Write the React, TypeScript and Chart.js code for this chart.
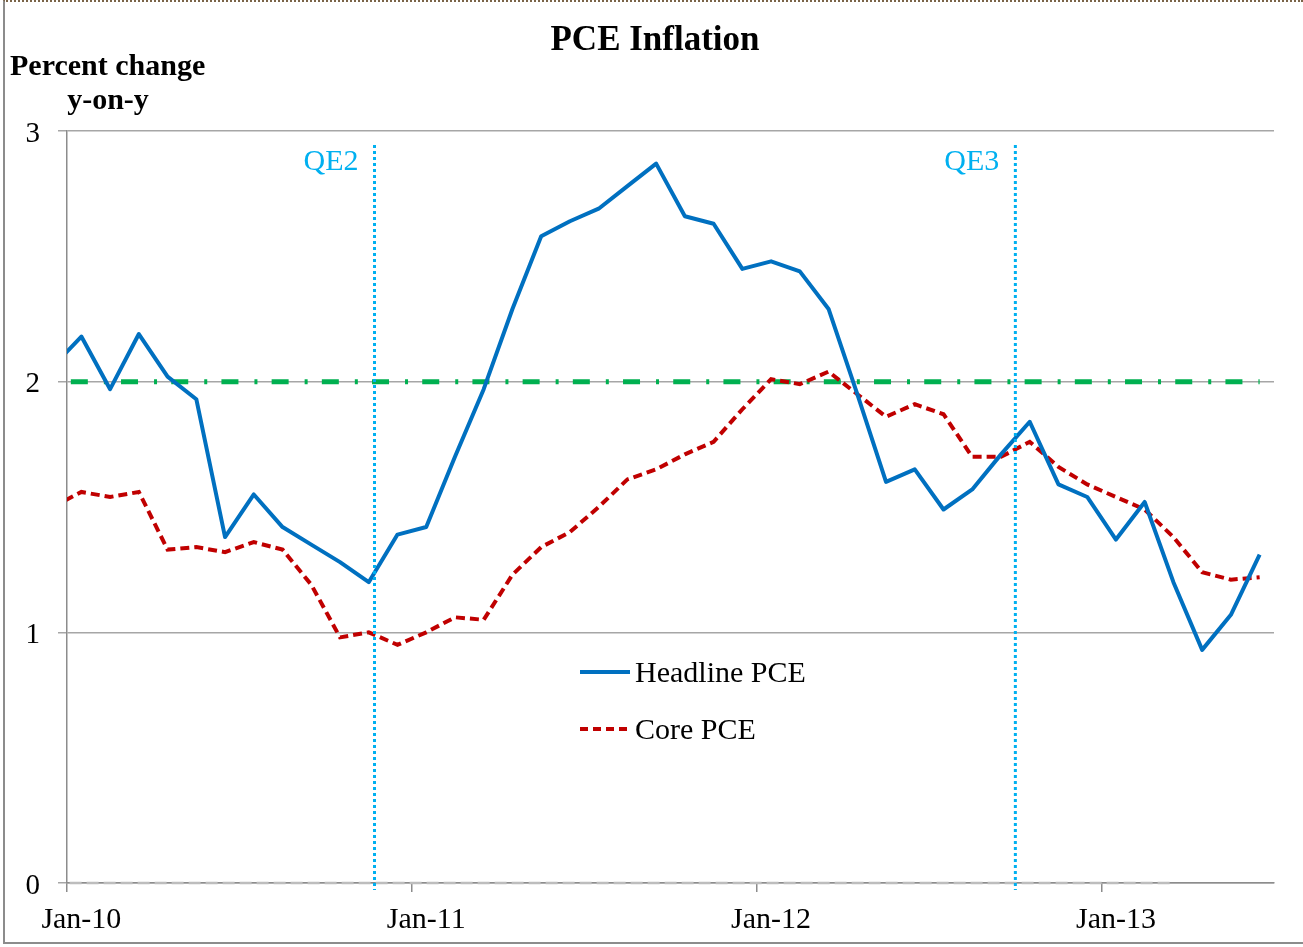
import React, { useEffect, useRef } from 'react';
import { Chart, registerables } from 'chart.js';

Chart.register(...registerables);

// Category tick labels (one per month, Jan-10 .. Jun-13)
const monthLabels = [
  'Jan-10', 'Feb-10', 'Mar-10', 'Apr-10', 'May-10', 'Jun-10', 'Jul-10', 'Aug-10', 'Sep-10', 'Oct-10', 'Nov-10', 'Dec-10',
  'Jan-11', 'Feb-11', 'Mar-11', 'Apr-11', 'May-11', 'Jun-11', 'Jul-11', 'Aug-11', 'Sep-11', 'Oct-11', 'Nov-11', 'Dec-11',
  'Jan-12', 'Feb-12', 'Mar-12', 'Apr-12', 'May-12', 'Jun-12', 'Jul-12', 'Aug-12', 'Sep-12', 'Oct-12', 'Nov-12', 'Dec-12',
  'Jan-13', 'Feb-13', 'Mar-13', 'Apr-13', 'May-13', 'Jun-13',
];

// Series values start with Dec-09 (partially visible at the left edge)
const headlinePCE = [
  2.06,
  2.18, 1.97, 2.19, 2.02, 1.93, 1.38, 1.55, 1.42, 1.35, 1.28, 1.20, 1.39,
  1.42, 1.70, 1.97, 2.29, 2.58, 2.64, 2.69, 2.78, 2.87, 2.66, 2.63, 2.45,
  2.48, 2.44, 2.29, 1.95, 1.60, 1.65, 1.49, 1.57, 1.71, 1.84, 1.59, 1.54,
  1.37, 1.52, 1.20, 0.93, 1.07, 1.31,
];
const corePCE = [
  1.50,
  1.56, 1.54, 1.56, 1.33, 1.34, 1.32, 1.36, 1.33, 1.19, 0.98, 1.00, 0.95,
  1.00, 1.06, 1.05, 1.23, 1.34, 1.40, 1.50, 1.61, 1.65, 1.71, 1.76, 1.89,
  2.01, 1.99, 2.04, 1.95, 1.86, 1.91, 1.87, 1.70, 1.70, 1.76, 1.66, 1.59,
  1.54, 1.49, 1.38, 1.24, 1.21, 1.22,
];
const fedTarget = [
  2,
  2, 2, 2, 2, 2, 2, 2, 2, 2, 2, 2, 2,
  2, 2, 2, 2, 2, 2, 2, 2, 2, 2, 2, 2,
  2, 2, 2, 2, 2, 2, 2, 2, 2, 2, 2, 2,
  2, 2, 2, 2, 2, 2,
];
const zeroReference = [
  0,
  0, 0, 0, 0, 0, 0, 0, 0, 0, 0, 0, 0,
  0, 0, 0, 0, 0, 0, 0, 0, 0, 0, 0, 0,
  0, 0, 0, 0, 0, 0, 0, 0, 0, 0, 0, 0,
  0, 0, 0,
];
const yTicks = [0, 1, 2, 3];
const qeNames = ['QE2', 'QE3'];
const qeMonthIndex = [10.2, 32.5];

const FONT = '"Liberation Serif", "Times New Roman", Times, serif';

export default function App() {
  const canvasRef = useRef<HTMLCanvasElement | null>(null);

  useEffect(() => {
    document.body.style.margin = '0';
    const canvas = canvasRef.current;
    if (!canvas) return;

    const toPoints = (arr: number[]) => arr.map((y, i) => ({ x: i - 1, y }));

    const overlay = {
      id: 'overlay',
      afterDatasetsDraw(chart: any) {
        const ctx = chart.ctx;
        const xs = chart.scales.xv;
        const area = chart.chartArea;
        ctx.save();
        qeMonthIndex.forEach((m, i) => {
          const px = xs.getPixelForValue(m);
          ctx.strokeStyle = '#00b0f0';
          ctx.lineWidth = 3;
          ctx.setLineDash([3, 3]);
          ctx.beginPath();
          ctx.moveTo(px, area.top + 14);
          ctx.lineTo(px, area.bottom + 7);
          ctx.stroke();
          ctx.setLineDash([]);
          ctx.fillStyle = '#00b0f0';
          ctx.font = `30px ${FONT}`;
          ctx.textAlign = 'right';
          ctx.textBaseline = 'alphabetic';
          ctx.fillText(qeNames[i], px - 16, area.top + 39);
        });
        ctx.restore();
      },
      afterDraw(chart: any) {
        const ctx = chart.ctx;
        ctx.save();
        ctx.fillStyle = '#000';
        ctx.textBaseline = 'alphabetic';
        ctx.textAlign = 'center';
        ctx.font = `bold 35px ${FONT}`;
        ctx.fillText('PCE Inflation', 655, 50);
        ctx.textAlign = 'left';
        ctx.font = `bold 30px ${FONT}`;
        ctx.fillText('Percent change', 10, 75);
        ctx.textAlign = 'center';
        ctx.fillText('y-on-y', 108, 109);

        // legend
        ctx.lineWidth = 4;
        ctx.strokeStyle = '#0070c0';
        ctx.beginPath();
        ctx.moveTo(580, 672);
        ctx.lineTo(630, 672);
        ctx.stroke();
        ctx.strokeStyle = '#c00000';
        ctx.setLineDash([8, 5]);
        ctx.beginPath();
        ctx.moveTo(580, 729);
        ctx.lineTo(630, 729);
        ctx.stroke();
        ctx.setLineDash([]);
        ctx.fillStyle = '#000';
        ctx.textAlign = 'left';
        ctx.textBaseline = 'middle';
        ctx.font = `30px ${FONT}`;
        ctx.fillText('Headline PCE', 635, 674);
        ctx.fillText('Core PCE', 635, 731);
        ctx.restore();
      },
    };

    const chart = new Chart(canvas, {
      type: 'line',
      data: {
        labels: monthLabels,
        datasets: [
          {
            label: 'Headline PCE',
            data: toPoints(headlinePCE),
            xAxisID: 'xv',
            borderColor: '#0070c0',
            borderWidth: 4,
            pointRadius: 0,
            borderJoinStyle: 'round',
            clip: { left: 0, right: 0, top: 5, bottom: 5 },
          },
          {
            label: 'Core PCE',
            data: toPoints(corePCE),
            xAxisID: 'xv',
            borderColor: '#c00000',
            borderWidth: 4,
            borderDash: [9, 5],
            pointRadius: 0,
            clip: { left: 0, right: 0, top: 5, bottom: 5 },
          },
          {
            label: 'Target',
            data: toPoints(fedTarget),
            xAxisID: 'xv',
            borderColor: '#00b050',
            borderWidth: 5,
            borderDash: [17, 16, 3, 14.2],
            borderDashOffset: 32,
            pointRadius: 0,
            clip: { left: 0, right: 0, top: 5, bottom: 5 },
          },
          {
            label: 'Zero',
            data: toPoints(zeroReference),
            xAxisID: 'xv',
            borderColor: '#bdbdbd',
            borderWidth: 2.5,
            borderDash: [12, 5],
            pointRadius: 0,
            clip: { left: 0, right: 0, top: 5, bottom: 5 },
          },
        ],
      },
      options: {
        animation: false,
        responsive: true,
        maintainAspectRatio: false,
        layout: { padding: { left: 0, top: 131, right: 29, bottom: 0 } },
        plugins: {
          legend: { display: false },
          title: { display: false },
          tooltip: { enabled: false },
        },
        font: { family: FONT },
        scales: {
          x: {
            type: 'category',
            position: 'bottom',
            offset: true,
            afterFit: (s: any) => { s.height = 64; },
            grid: {
              offset: true,
              drawOnChartArea: false,
              drawTicks: true,
              tickLength: 9,
              lineWidth: 1.5,
              color: (c: any) => (typeof c.index === 'number' && c.index % 12 === 0 ? '#8c8c8c' : 'rgba(0,0,0,0)'),
            },
            border: { color: '#8c8c8c', width: 1.5 },
            ticks: {
              autoSkip: false,
              maxRotation: 0,
              minRotation: 0,
              padding: 10,
              color: '#000',
              font: { family: FONT, size: 30 },
              callback: (_v: any, i: number) => (i % 12 === 0 ? monthLabels[i] : ''),
            },
          },
          xv: {
            type: 'linear',
            display: false,
            min: -0.5,
            max: 41.5,
          },
          y: {
            min: 0,
            max: 3,
            afterFit: (s: any) => { s.width = 67; },
            afterBuildTicks: (s: any) => { s.ticks = yTicks.map((v) => ({ value: v })); },
            ticks: {
              padding: 18,
              labelOffset: 3,
              color: '#000',
              font: { family: FONT, size: 29 },
            },
            grid: { color: '#a6a6a6', lineWidth: 1.5, tickLength: 9 },
            border: { color: '#8c8c8c', width: 1.5 },
          },
        },
      } as any,
      plugins: [overlay],
    });

    return () => chart.destroy();
  }, []);

  return (
    <div style={{ position: 'relative', width: 1303, height: 947, background: '#fff', overflow: 'hidden' }}>
      <canvas ref={canvasRef} />
      <div
        style={{
          position: 'absolute',
          left: 3,
          top: 0,
          width: 1300,
          height: 944,
          borderLeft: '2px solid #8c8c8c',
          borderBottom: '2px solid #8c8c8c',
          borderTop: '2px dotted #7a6448',
          boxSizing: 'border-box',
          pointerEvents: 'none',
        }}
      />
    </div>
  );
}
